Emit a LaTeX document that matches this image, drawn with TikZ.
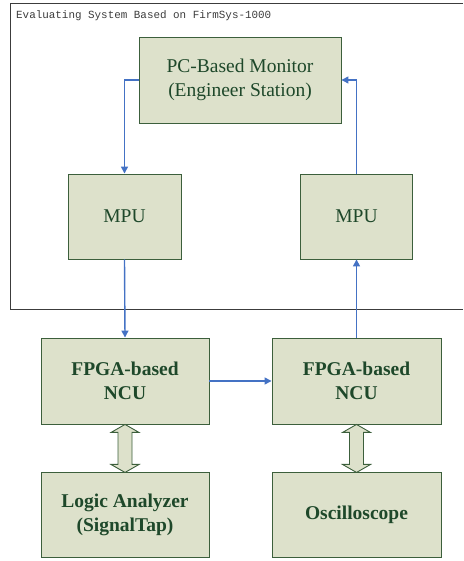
\documentclass[tikz,border=0pt]{standalone}
\usepackage{fontspec}
\setmainfont{Liberation Serif}
\newfontfamily\monofont{Liberation Mono}
\usetikzlibrary{arrows.meta}
\definecolor{boxfill}{RGB}{221,225,203}
\definecolor{boxdraw}{RGB}{60,95,60}
\definecolor{boxtext}{RGB}{30,72,42}
\definecolor{arrowblue}{RGB}{68,114,196}
\definecolor{framegray}{RGB}{60,60,60}
\begin{document}
\begin{tikzpicture}[x=1pt,y=1pt,
  blk/.style={draw=boxdraw,fill=boxfill,line width=0.9pt,text=boxtext,
    align=center,inner sep=0pt,font=\fontsize{19.5}{24}\selectfont},
  blkb/.style={blk,font=\fontsize{19.5}{24}\selectfont\bfseries},
  conn/.style={draw=arrowblue,line width=1.4pt,-{Triangle[length=7pt,width=7pt]}},
  dbl/.style={draw=boxdraw,fill=boxfill,line width=0.9pt,line join=miter}]
\useasboundingbox (0,0) rectangle (463,561);
\draw[framegray,line width=0.9pt] (463,558) -- (10,558) -- (10,252) -- (463,252);
\node[anchor=west,inner sep=0pt,font=\monofont\fontsize{10.9}{12}\selectfont,text=framegray] (title) at (16,545) {Evaluating System Based on FirmSys-1000};

\node[blk,minimum width=202,minimum height=86] (pc) at (240,481) {PC-Based Monitor\\(Engineer Station)};
\node[blk,minimum width=113,minimum height=85] (mpuL) at (124.5,344.5) {MPU};
\node[blk,minimum width=112,minimum height=85] (mpuR) at (356.5,344.5) {MPU};
\node[blkb,minimum width=168,minimum height=86] (fpgaL) at (125,180) {FPGA-based\\NCU};
\node[blkb,minimum width=169,minimum height=86] (fpgaR) at (356.5,180) {FPGA-based\\NCU};
\node[blkb,minimum width=168,minimum height=85] (la) at (125,46.5) {Logic Analyzer\\(SignalTap)};
\node[blkb,minimum width=169,minimum height=85] (osc) at (356.5,46.5) {Oscilloscope};

\draw[conn] (pc.west) -| (mpuL.north);
\draw[conn] (mpuR.north) |- (pc.east);
\draw[conn] (mpuL.south) -- (fpgaL.north);
\draw[conn] (fpgaR.north) -- (mpuR.south);
\draw[conn] (fpgaL.east) -- (fpgaR.west);

\draw[dbl] (fpgaL.south) -- ++(14,-8) -- ++(-7,0) -- ++(0,-32) -- ++(7,0) -- ++(-14,-8) -- ++(-14,8) -- ++(7,0) -- ++(0,32) -- ++(-7,0) -- cycle;
\draw[dbl] (fpgaR.south) -- ++(14,-8) -- ++(-7,0) -- ++(0,-32) -- ++(7,0) -- ++(-14,-8) -- ++(-14,8) -- ++(7,0) -- ++(0,32) -- ++(-7,0) -- cycle;
\end{tikzpicture}
\end{document}
